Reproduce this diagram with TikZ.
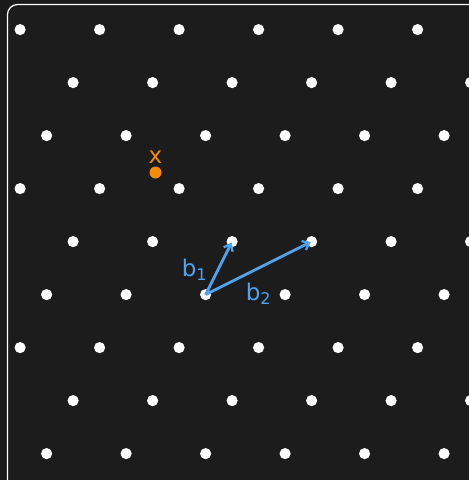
\documentclass[tikz,border=0pt]{standalone}
\usepackage{fontspec}
\setmainfont{DejaVu Sans}
\usetikzlibrary{arrows.meta}
\definecolor{bgout}{HTML}{1A1A1A}
\definecolor{bgin}{HTML}{1C1C1C}
\definecolor{vecblue}{HTML}{4DA3EE}
\definecolor{ptorange}{HTML}{F58A07}
\tikzset{
  latdot/.style={fill=white},
  vecarrow/.style={draw=vecblue, line width=2.8pt, -{Straight Barb[length=6pt,width=10pt,line width=2.3pt]}, shorten >=1pt},
  veclabel/.style={text=vecblue, font=\fontsize{23}{26}\selectfont, inner sep=0pt},
}
\begin{document}
\begin{tikzpicture}[x=1pt,y=-1pt]
\useasboundingbox (0,0) rectangle (469,480);
\fill[bgout] (0,0) rectangle (469,480);
\begin{scope}
\clip (0,0) rectangle (469,480);
\draw[white, line width=1.2pt, fill=bgin, rounded corners=10pt] (7.5,4.5) rectangle (490,500);
\foreach \i in {-16,...,16}{
  \foreach \j in {-10,...,10}{
    \pgfmathsetmacro{\px}{205.6+26.5*\i+106*\j}
    \pgfmathsetmacro{\py}{294.6-53*(\i+\j)}
    \ifdim \px pt>-20pt \ifdim \px pt<500pt \ifdim \py pt>-20pt \ifdim \py pt<500pt
      \fill[latdot] (\px,\py) circle (5.6);
    \fi\fi\fi\fi
  }
}
\end{scope}
\coordinate (O) at (205.6,294.6);
\coordinate (B1) at (232.1,241.6);
\coordinate (B2) at (311.6,241.6);
\draw[vecarrow] (O) -- (B1);
\draw[vecarrow] (O) -- (B2);
\node[veclabel] (lb1) at (194.5,270) {b\textsubscript{1}};
\node[veclabel] (lb2) at (258.5,293.5) {b\textsubscript{2}};
\fill[ptorange] (155.5,172.5) circle (6) coordinate (X);
\node[text=ptorange, font=\fontsize{23}{26}\selectfont, inner sep=0pt] (lx) at (155.5,157.5) {x};
\end{tikzpicture}
\end{document}
